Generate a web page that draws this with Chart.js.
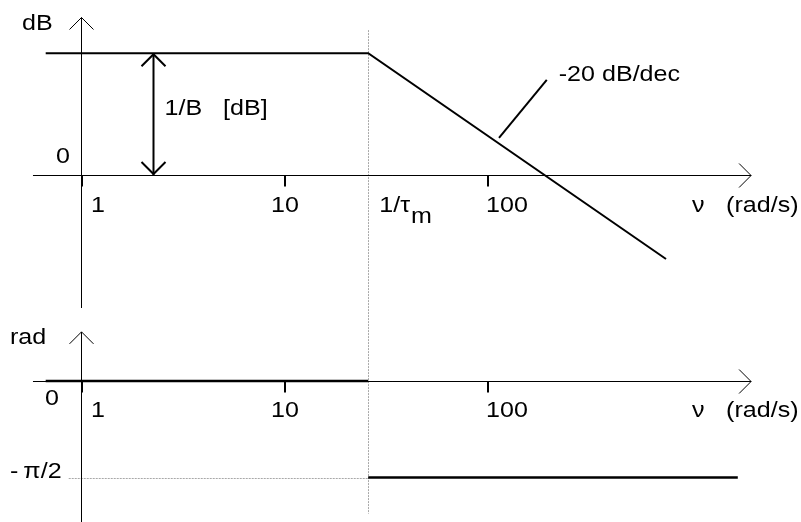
<!DOCTYPE html>
<html lang="en">
<head>
  <meta charset="UTF-8" />
  <title>Bode diagram</title>
  <script src="https://cdn.jsdelivr.net/npm/chart.js"></script>
  <style>
    html, body { margin: 0; padding: 0; background: #fff; }
    #wrap { position: relative; width: 801px; height: 522px; }
  </style>
</head>
<body>
  <div id="wrap"><canvas id="bode"></canvas></div>
  <script>
    // frequency ticks (rad/s)
    const freqTicks = [1, 10, 100];
    const freqTickLabels = ['1', '10', '100'];
    const cornerFreq = 26;            // 1/tau_m

    // asymptotic magnitude (dB)
    const magFreq = [0.67, 26, 762];
    const magDb = [17.4, 17.4, -12.0];

    // asymptotic phase (rad)
    const phaseLowFreq = [0.67, 26];
    const phaseLowRad = [0, 0];
    const phaseHighFreq = [26, 1720];
    const phaseHighRad = [-1.5708, -1.5708];

    const FONT = '22px "Liberation Sans", Arial, sans-serif';
    const STRETCH = 1.14;

    function pts(xs, ys) { return xs.map((v, i) => ({ x: v, y: ys[i] })); }

    function text(ctx, s, px, py, align) {
      ctx.save();
      ctx.translate(px, py);
      ctx.scale(STRETCH, 1);
      ctx.font = FONT;
      ctx.fillStyle = '#000';
      ctx.textAlign = align || 'left';
      ctx.textBaseline = 'alphabetic';
      ctx.fillText(s, 0, 0);
      const w = ctx.measureText(s).width * STRETCH;
      ctx.restore();
      return w;
    }

    function line(ctx, x1, y1, x2, y2) {
      ctx.beginPath();
      ctx.moveTo(x1, y1);
      ctx.lineTo(x2, y2);
      ctx.stroke();
    }

    // open "V" arrow head pointing along (dx, dy)
    function head(ctx, px, py, dir) {
      const s = 12;
      ctx.beginPath();
      if (dir === 'up') { ctx.moveTo(px - s, py + s); ctx.lineTo(px, py); ctx.lineTo(px + s, py + s); }
      if (dir === 'down') { ctx.moveTo(px - s, py - s); ctx.lineTo(px, py); ctx.lineTo(px + s, py - s); }
      if (dir === 'right') { ctx.moveTo(px - s, py - s); ctx.lineTo(px, py); ctx.lineTo(px - s, py + s); }
      ctx.stroke();
    }

    const r = v => Math.round(v) + 0.5;

    const sketch = {
      id: 'sketch',
      beforeDatasetsDraw(chart) {
        const { ctx, scales: { x, yMag, yPhase } } = chart;
        const ax = r(x.getPixelForValue(1));
        const xl = x.getPixelForValue(0.58), xr = x.getPixelForValue(2000);
        const y0m = r(yMag.getPixelForValue(0));
        const y0p = r(yPhase.getPixelForValue(0));
        const xc = r(x.getPixelForValue(cornerFreq));

        ctx.save();
        // guide lines at the corner frequency and at -pi/2
        ctx.strokeStyle = '#a8a8a8';
        ctx.lineWidth = 1;
        ctx.setLineDash([2, 1]);
        line(ctx, xc, yMag.getPixelForValue(20.7), xc, yPhase.getPixelForValue(-2.16));
        const yq = r(yPhase.getPixelForValue(phaseHighRad[0]));
        line(ctx, x.getPixelForValue(0.87), yq, xc, yq);
        ctx.setLineDash([]);

        // axes
        ctx.strokeStyle = '#000';
        ctx.lineWidth = 1;
        line(ctx, ax, yMag.getPixelForValue(22.5), ax, yMag.getPixelForValue(-19));
        head(ctx, ax, yMag.getPixelForValue(22.5), 'up');
        line(ctx, xl, y0m, xr, y0m);
        head(ctx, xr, y0m, 'right');

        line(ctx, ax, yPhase.getPixelForValue(0.8), ax, chart.chartArea.bottom);
        head(ctx, ax, yPhase.getPixelForValue(0.8), 'up');
        line(ctx, xl, y0p, xr, y0p);
        head(ctx, xr, y0p, 'right');

        // ticks
        ctx.lineWidth = 2;
        freqTicks.forEach(f => {
          const tx = Math.round(x.getPixelForValue(f)) + 1;
          line(ctx, tx, y0m, tx, y0m + 11);
          line(ctx, tx, y0p, tx, y0p + 11);
        });
        ctx.restore();
      },
      afterDatasetsDraw(chart) {
        const { ctx, scales: { x, yMag, yPhase } } = chart;
        const ax = x.getPixelForValue(1);
        const y0m = yMag.getPixelForValue(0);
        const y0p = yPhase.getPixelForValue(0);
        const xr = x.getPixelForValue(2000);

        ctx.save();
        // 1/B double arrow
        ctx.strokeStyle = '#000';
        ctx.lineWidth = 2;
        const bx = Math.round(x.getPixelForValue(2.26)) + 0.5;
        const bTop = yMag.getPixelForValue(magDb[0]);
        line(ctx, bx, bTop, bx, y0m);
        head(ctx, bx, bTop + 1, 'up');
        head(ctx, bx, y0m - 1, 'down');

        // slope leader
        line(ctx, x.getPixelForValue(197), yMag.getPixelForValue(13.6),
                  x.getPixelForValue(114.6), yMag.getPixelForValue(5.3));
        ctx.restore();

        // text
        text(ctx, 'dB', ax - 59, y0m - 145);
        text(ctx, '0', ax - 11, y0m - 12, 'right');
        text(ctx, '1/B   [dB]', bx + 11, y0m - 60);
        text(ctx, '-20 dB/dec', x.getPixelForValue(197) + 12, yMag.getPixelForValue(13.6) + 1);

        const dx = [10, -13, -1];
        freqTicks.forEach((f, i) => {
          const tx = x.getPixelForValue(f) + dx[i];
          text(ctx, freqTickLabels[i], tx, y0m + 37);
          text(ctx, freqTickLabels[i], tx, y0p + 36);
        });

        const xc = x.getPixelForValue(cornerFreq);
        const w = text(ctx, '1/\u03c4', xc + 11, y0m + 37);
        text(ctx, 'm', xc + 11 + w + 1, y0m + 48);

        [y0m + 37, y0p + 36].forEach(by => {
          text(ctx, '\u03bd', xr - 59, by);
          text(ctx, '(rad/s)', xr - 25, by);
        });

        text(ctx, 'rad', 10, yPhase.getPixelForValue(0.8) + 12);
        text(ctx, '0', ax - 22, y0p + 24, 'right');
        text(ctx, '-\u2009\u03c0/2', 10, yPhase.getPixelForValue(phaseHighRad[0]));
      }
    };

    new Chart('bode', {
      type: 'line',
      data: {
        datasets: [
          { data: pts(magFreq, magDb), yAxisID: 'yMag', borderColor: '#000', borderWidth: 2 },
          { data: pts(phaseLowFreq, phaseLowRad), yAxisID: 'yPhase', borderColor: '#000', borderWidth: 2.5 },
          { data: pts(phaseHighFreq, phaseHighRad), yAxisID: 'yPhase', borderColor: '#000', borderWidth: 2.5 }
        ]
      },
      options: {
        responsive: true,
        maintainAspectRatio: false,
        devicePixelRatio: 1,
        animation: false,
        events: [],
        layout: { padding: 0 },
        elements: {
          point: { radius: 0 },
          line: { tension: 0, borderJoinStyle: 'miter', fill: false }
        },
        plugins: { legend: { display: false }, tooltip: { enabled: false } },
        scales: {
          x: { type: 'logarithmic', min: 0.399, max: 3523, bounds: 'data', display: false },
          yMag: { type: 'linear', min: -49.57, max: 25, bounds: 'data', display: false },
          yPhase: { type: 'linear', min: -2.295, max: 6.202, bounds: 'data', display: false }
        }
      },
      plugins: [sketch]
    });
  </script>
</body>
</html>
